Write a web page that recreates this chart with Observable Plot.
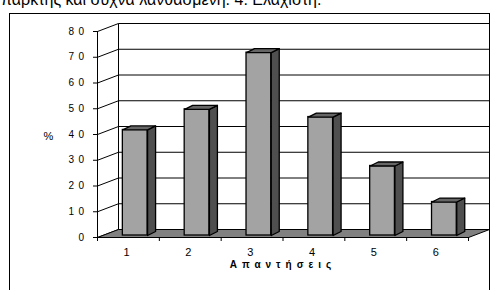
<!DOCTYPE html>
<html>
<head>
<meta charset="utf-8">
<script src="https://cdn.jsdelivr.net/npm/d3@7"></script>
<script src="https://cdn.jsdelivr.net/npm/@observablehq/plot@0.6"></script>
<style>
  html, body { margin: 0; padding: 0; background: #fff; }
  #wrap { position: relative; width: 494px; height: 290px; overflow: hidden; font-family: Arial, "Liberation Sans", sans-serif; }
  #title { position: absolute; left: 1px; top: -8px; font-size: 16px; line-height: 16px; white-space: nowrap; color: #000; }
  #box { position: absolute; left: 9px; top: 13px; width: 481px; height: 320px; border: 1px solid #000; box-sizing: border-box; }
  #chart { position: absolute; left: 0; top: 0; }
  #chart svg [aria-label="y-axis tick label"] text { letter-spacing: 4.5px; }
  .xtitle text { letter-spacing: 5px; }
</style>
</head>
<body>
<div id="wrap">
  <div id="title">παρκτης και συχνά λανθασμένη. 4: Ελάχιστη.</div>
  <div id="box"></div>
  <div id="chart"></div>
</div>
<script>
// ---- data ----
const categories = ["1", "2", "3", "4", "5", "6"];
const values = [41, 49, 71, 46, 27, 13];
const yTicks = [0, 10, 20, 30, 40, 50, 60, 70, 80];
const xTitle = "Απαντήσεις";
const yTitle = "%";

// ---- 3D geometry (in data units) ----
const pxX = 371 / 6, pxY = 206 / 80;
const WDX = 21 / pxX, WDY = 8 / pxY;      // back wall offset
const BL = 0.41, BR = 0.81;               // bar front face within category
const BASE = 2 / pxY;                     // bar base lift
const BDX = 8 / pxX, BDY = 4 / pxY;       // bar depth
const N = categories.length, YMAX = 80;

const bars = values.map((v, i) => ({cat: categories[i], i, v}));
const sidePts = [], topPts = [];
bars.forEach(({i, v}) => {
  const xl = i + BL, xr = i + BR, b = BASE, t = v + BASE;
  [[xr, b], [xr + BDX, b + BDY], [xr + BDX, t + BDY], [xr, t], [xr, b]]
    .forEach(([x, y]) => sidePts.push({id: i, x, y}));
  [[xl, t], [xr, t], [xr + BDX, t + BDY], [xl + BDX, t + BDY], [xl, t]]
    .forEach(([x, y]) => topPts.push({id: i, x, y}));
});
const floorPts = [[0, 0], [N, 0], [N + WDX, WDY], [WDX, WDY], [0, 0]].map(([x, y]) => ({x, y}));
const boundaries = d3.range(N + 1);

const chart = Plot.plot({
  width: 494,
  height: 290,
  marginLeft: 97,
  marginRight: 26,
  marginTop: 31,
  marginBottom: 53,
  x: {domain: [0, N], axis: null},
  y: {domain: [0, YMAX], axis: null},
  style: {background: "transparent", fontFamily: "Arial, 'Liberation Sans', sans-serif", color: "#000", overflow: "visible"},
  marks: [
    // back wall grid lines
    Plot.link(yTicks, {x1: WDX, x2: N + WDX, y1: d => d + WDY, y2: d => d + WDY, stroke: "#000", strokeWidth: 1}),
    // back wall left & right edges
    Plot.link([WDX, N + WDX], {x1: d => d, x2: d => d, y1: WDY, y2: YMAX + WDY, stroke: "#000", strokeWidth: 1}),
    // left wall diagonals
    Plot.link(yTicks, {x1: 0, y1: d => d, x2: WDX, y2: d => d + WDY, stroke: "#000", strokeWidth: 1}),
    // floor
    Plot.line(floorPts, {x: "x", y: "y", fill: "#808080", stroke: "#000", strokeWidth: 1}),
    // front y axis line
    Plot.ruleX([0], {y1: 0, y2: YMAX, stroke: "#000", strokeWidth: 1}),
    Plot.axisY(yTicks, {anchor: "left", tickSize: 4, tickPadding: 5, fontSize: 10, label: null}),
    // x ticks & labels
    Plot.axisX(boundaries, {anchor: "bottom", tickSize: 4, tickFormat: () => "", label: null}),
    Plot.text(bars, {x: d => d.i + 0.47, y: 0, text: "cat", dy: 15, fontSize: 11, lineAnchor: "middle"}),
    // bars
    Plot.rect(bars, {x1: d => d.i + BL, x2: d => d.i + BR, y1: BASE, y2: d => d.v + BASE, fill: "#a3a3a3", stroke: "#000", strokeWidth: 1.3}),
    Plot.line(sidePts, {x: "x", y: "y", z: "id", fill: "#4f4f4f", stroke: "#000", strokeWidth: 1.3}),
    Plot.line(topPts, {x: "x", y: "y", z: "id", fill: "#666666", stroke: "#000", strokeWidth: 1.3}),
    // titles
    Plot.text([xTitle], {frameAnchor: "bottom", dy: 27, fontSize: 10, fontWeight: "bold", lineAnchor: "middle", className: "xtitle"}),
    Plot.text([yTitle], {frameAnchor: "left", dx: -54, dy: 2, fontSize: 11, lineAnchor: "middle"})
  ]
});
document.getElementById("chart").appendChild(chart);
</script>
</body>
</html>
